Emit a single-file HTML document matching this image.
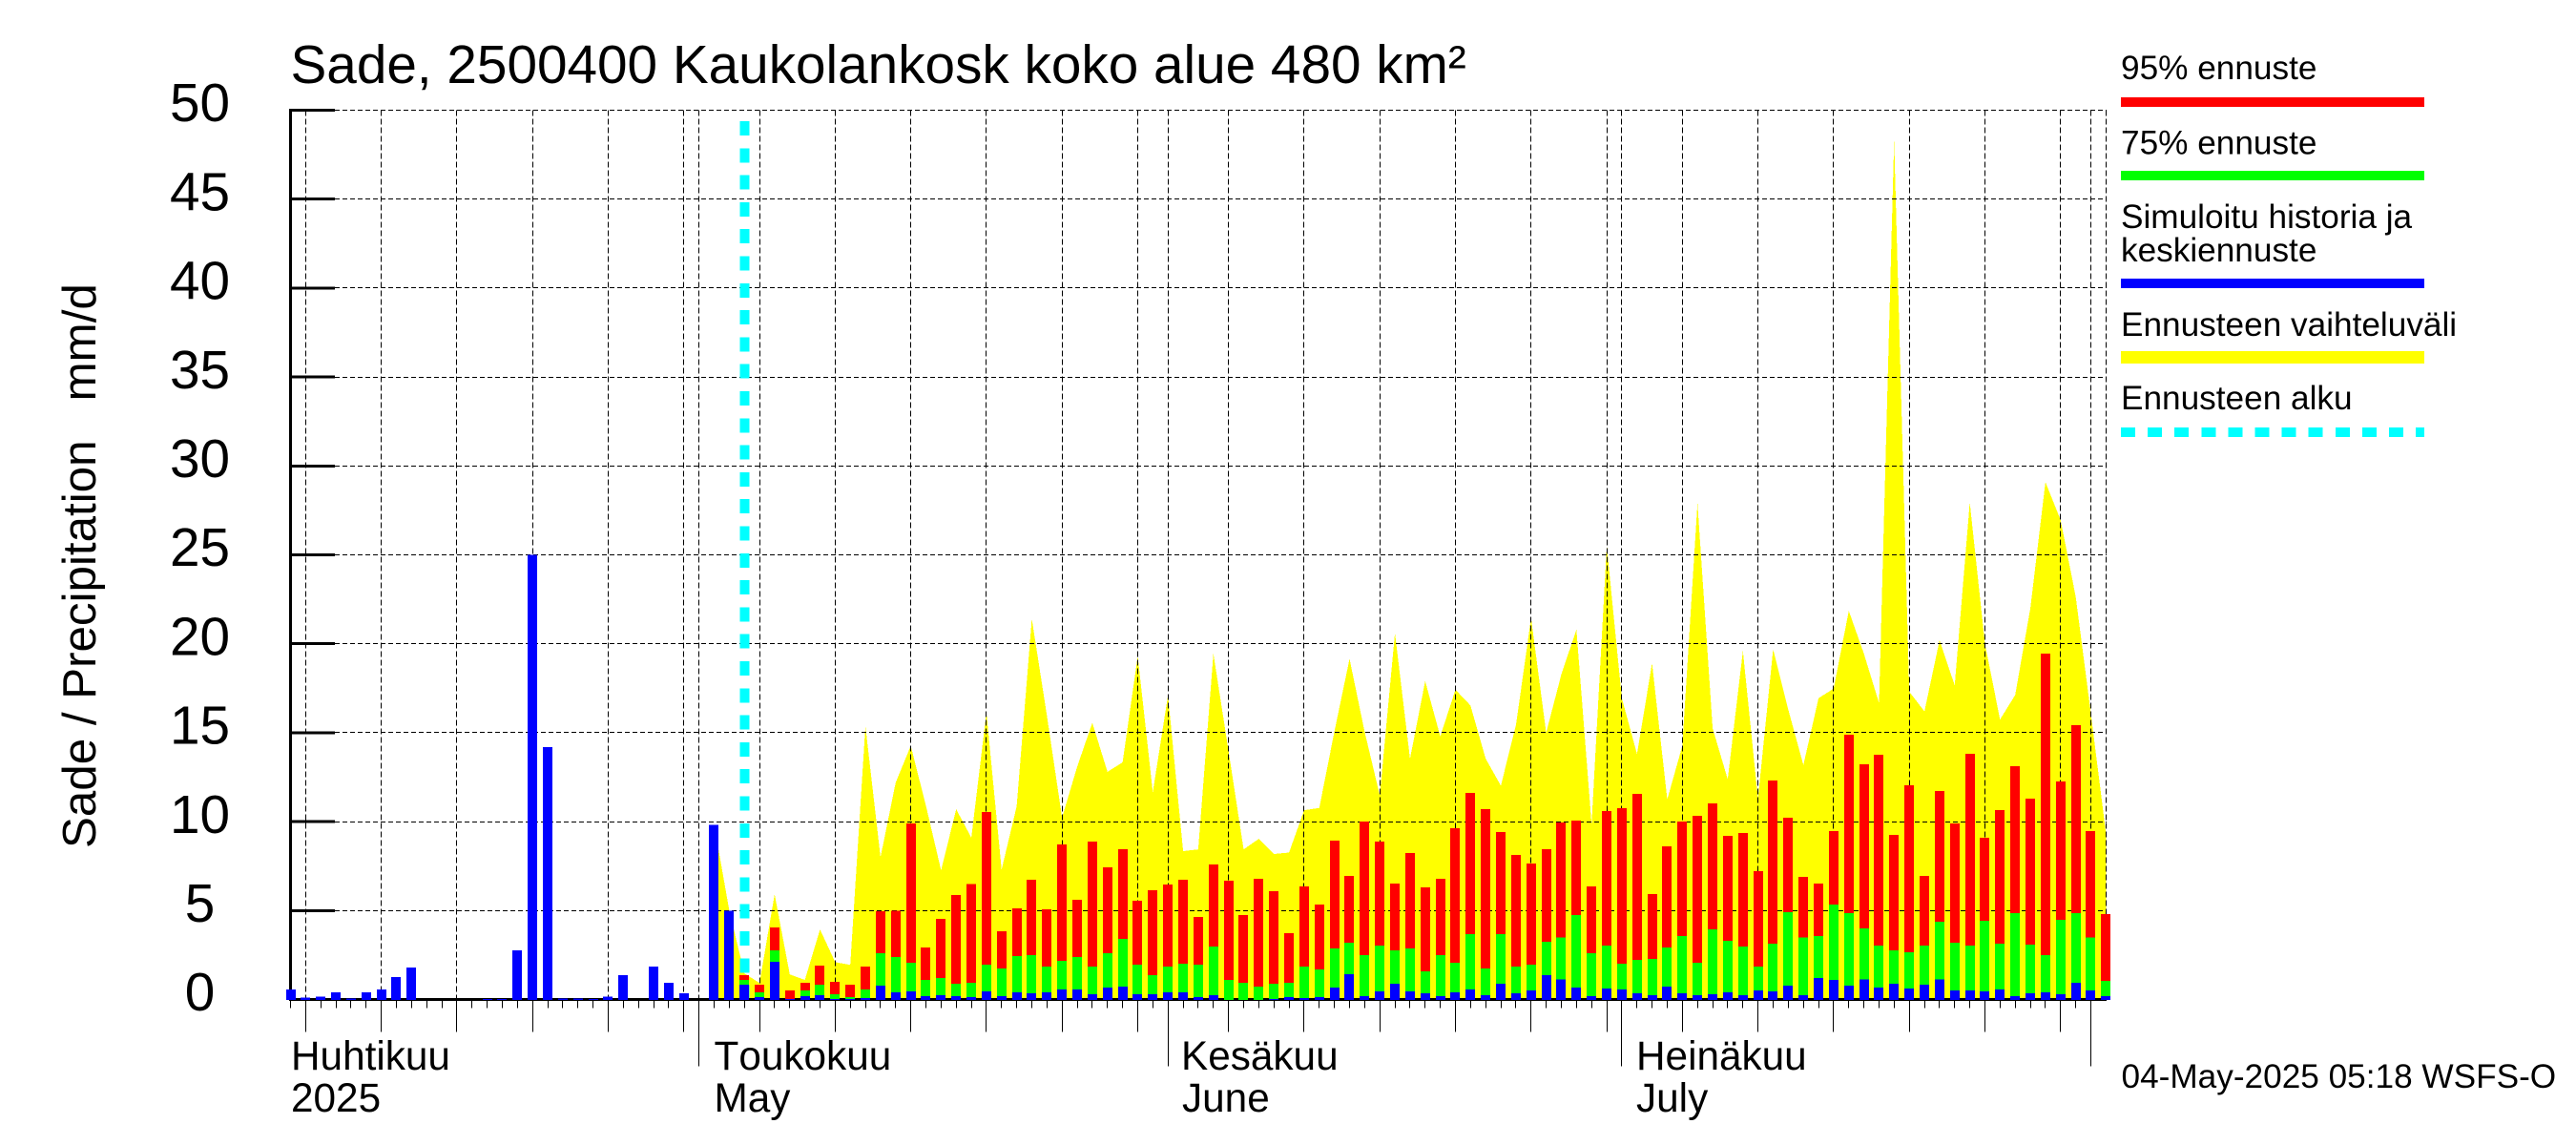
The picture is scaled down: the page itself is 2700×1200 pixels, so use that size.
<!DOCTYPE html>
<html lang="fi">
<head>
<meta charset="utf-8">
<title>Sade, 2500400 Kaukolankosk koko alue 480 km²</title>
<style>
html,body{margin:0;padding:0;background:#fff;}
svg{display:block;}
text{font-family:"Liberation Sans",sans-serif;fill:#000;font-kerning:none;}
</style>
</head>
<body>
<svg id="chart" xmlns="http://www.w3.org/2000/svg" width="2700" height="1200" viewBox="0 0 2700 1200">
  <rect x="0" y="0" width="2700" height="1200" fill="#ffffff"/>
  <polygon id="envelope" fill="#ffff00" shape-rendering="crispEdges"/>
  <g id="grid" shape-rendering="crispEdges"></g>
  <line id="forecast-start" stroke="#00ffff" stroke-width="10" stroke-dasharray="15 13.3" shape-rendering="crispEdges"/>
  <g id="axes" shape-rendering="crispEdges"></g>
  <g id="bars" shape-rendering="crispEdges"></g>
  <g id="ylabels"></g>

  <text x="304.5" y="87" font-size="56.7">Sade, 2500400 Kaukolankosk koko alue 480 km²</text>
  <text transform="translate(100,889) rotate(-90)" font-size="49.3" xml:space="preserve">Sade / Precipitation   mm/d</text>

  <g font-size="42.3">
    <text x="305" y="1121">Huhtikuu</text>
    <text x="305" y="1165">2025</text>
    <text x="748.5" y="1121">Toukokuu</text>
    <text x="748.5" y="1165">May</text>
    <text x="1238" y="1121">Kesäkuu</text>
    <text x="1239" y="1165">June</text>
    <text x="1715" y="1121">Heinäkuu</text>
    <text x="1715" y="1165">July</text>
  </g>

  <g font-size="35.2">
    <text x="2223" y="83">95% ennuste</text>
    <rect x="2223" y="102" width="318" height="10" fill="#ff0000"/>
    <text x="2223" y="161.5">75% ennuste</text>
    <rect x="2223" y="179" width="318" height="10" fill="#00ff00"/>
    <text x="2223" y="239">Simuloitu historia ja</text>
    <text x="2223" y="274">keskiennuste</text>
    <rect x="2223" y="292" width="318" height="10" fill="#0000ff"/>
    <text x="2223" y="352">Ennusteen vaihteluväli</text>
    <rect x="2223" y="368" width="318" height="13" fill="#ffff00"/>
    <text x="2223" y="429">Ennusteen alku</text>
    <line x1="2223" y1="453" x2="2541" y2="453" stroke="#00ffff" stroke-width="10" stroke-dasharray="15 13.1" shape-rendering="crispEdges"/>
  </g>

  <text x="2223.5" y="1140" font-size="35.2">04-May-2025 05:18 WSFS-O</text>
</svg>
<script>
// Y axis
const yTickLabels = [0, 5, 10, 15, 20, 25, 30, 35, 40, 45, 50];
// Calendar of the x axis
const startDate = "2025-04-04";
const endDate = "2025-08-02";
const forecastStartDate = "2025-05-04";
const envelopeStartDate = "2025-05-02";
// Observed daily precipitation, 4 Apr - 3 May
const historyValues = [0.57,0.1,0.15,0.4,0.05,0.4,0.57,1.27,1.8,0,0,0,0,0.03,0.03,2.77,25,14.2,0.05,0.05,0.03,0.15,1.38,0,1.86,0.95,0.36,0,9.83,5];
// Forecast from 4 May
const forecast95 = [1.36,0.82,4.04,0.5,0.93,1.9,0.98,0.82,1.84,4.96,5,9.9,2.92,4.53,5.87,6.5,10.54,3.83,5.12,6.73,5.06,8.71,5.6,8.87,7.42,8.44,5.55,6.14,6.46,6.73,4.63,7.58,6.67,4.74,6.78,6.08,3.72,6.35,5.33,8.93,6.94,10,8.87,6.51,8.23,6.3,6.78,9.62,11.61,10.7,9.41,8.12,7.64,8.44,9.96,10.05,6.35,10.59,10.75,11.56,5.92,8.6,10,10.32,11.02,9.19,9.36,7.21,12.31,10.21,6.89,6.51,9.46,14.88,13.22,13.76,9.25,12.04,6.94,11.72,9.89,13.81,9.09,10.64,13.11,11.29,19.45,12.25,15.42,9.46,4.79];
const forecast75 = [1.09,0.39,2.75,0.02,0.5,0.82,0.29,0.13,0.55,2.59,2.38,2.06,1.09,1.2,0.88,0.93,1.95,1.74,2.43,2.49,1.84,2.16,2.38,1.84,2.59,3.4,1.95,1.36,1.84,2,1.95,2.97,1.09,0.93,0.72,0.88,0.93,1.84,1.68,2.86,3.18,2.49,3.02,2.75,2.86,1.57,2.49,2.06,3.67,1.74,3.67,1.84,1.95,3.24,3.5,4.74,2.59,3.02,2,2.22,2.27,2.92,3.56,2.06,3.94,3.29,2.97,1.84,3.13,4.9,3.5,3.56,5.33,4.85,3.99,3.02,2.75,2.65,3.02,4.36,3.18,3.02,4.42,3.13,4.85,3.08,2.49,4.47,4.85,3.5,1.04];
const forecastMean = [0.82,0.13,2.11,0.02,0.18,0.23,0.02,0.02,0.07,0.77,0.39,0.45,0.18,0.23,0.18,0.13,0.45,0.18,0.39,0.34,0.39,0.55,0.55,0.29,0.66,0.72,0.29,0.29,0.39,0.39,0.13,0.23,0,0,0,0.02,0.13,0.07,0.13,0.66,1.41,0.18,0.45,0.88,0.45,0.34,0.18,0.39,0.55,0.23,0.88,0.34,0.5,1.36,1.14,0.66,0.18,0.61,0.55,0.34,0.23,0.72,0.34,0.23,0.29,0.39,0.23,0.5,0.45,0.77,0.23,1.2,1.09,0.77,1.14,0.66,0.88,0.61,0.82,1.14,0.5,0.5,0.45,0.55,0.18,0.34,0.39,0.29,0.93,0.5,0.18];
// Upper edge of the forecast range, from 2 May
const envelopeValues = [9.83,5,1.47,0.93,5.92,1.41,1.1,3.94,2.1,1.95,15.37,8,12.2,14.26,10.9,7.26,10.7,9.1,16.13,7.3,10.86,21.4,15.96,10.23,13.1,15.56,12.8,13.33,19.3,11.66,17.1,8.34,8.44,19.45,14,8.44,9.03,8.18,8.26,10.64,10.77,15.06,19.15,15.06,11.48,20.6,13.54,17.9,14.79,17.42,16.53,13.54,12.02,15.42,21.45,15,18.28,20.8,9.87,25.5,16.94,13.81,18.9,11.25,14.26,27.9,15.24,12.38,19.6,11.3,19.7,16.31,13.18,16.94,17.48,21.85,19.45,16.67,48.3,17.3,16.2,20.2,17.66,27.95,20,15.74,17.12,22,29.1,26.96,22.66,16.1,9.34];

const NS = "http://www.w3.org/2000/svg";
const DAY = 86400000;
const X0 = 304.5, DX = 15.857, Y0 = 1047.5, KY = 18.64, YMAX = 50;
const dayIndex = (s) => Math.round((Date.parse(s + "T00:00:00Z") - Date.parse(startDate + "T00:00:00Z")) / DAY);
const xScale = (d) => X0 + DX * d;
const yScale = (v) => Y0 - KY * v;
const snap = (v) => Math.round(v - 0.5) + 0.5;
const lastDay = dayIndex(endDate);
const forecastStart = dayIndex(forecastStartDate);
const envelopeStart = dayIndex(envelopeStartDate);

function mk(tag, parent, attrs) {
  const el = document.createElementNS(NS, tag);
  for (const k in attrs) el.setAttribute(k, attrs[k]);
  parent.appendChild(el);
  return el;
}

// Forecast range polygon
const pts = [];
pts.push(xScale(envelopeStart) + "," + Y0);
envelopeValues.forEach(function (v, i) {
  pts.push(xScale(envelopeStart + i).toFixed(1) + "," + yScale(v).toFixed(1));
});
pts.push(xScale(envelopeStart + envelopeValues.length - 1).toFixed(1) + "," + Y0);
document.getElementById("envelope").setAttribute("points", pts.join(" "));

// Grid and axes
const grid = document.getElementById("grid");
const axes = document.getElementById("axes");
const topY = yScale(YMAX);

yTickLabels.forEach(function (v) {
  if (v === 0) return;
  const gl = mk("line", grid, {x1: 351, x2: xScale(lastDay) + 0.5, y1: snap(yScale(v)), y2: snap(yScale(v)), stroke: "#000", "stroke-width": 1, "stroke-dasharray": "5 3"});
  
  
  const tk = mk("line", axes, {x1: 303, x2: 351, y1: yScale(v), y2: yScale(v), stroke: "#000", "stroke-width": 3});
  
  
});

for (let d = 0; d <= lastDay; d++) {
  const date = new Date(Date.parse(startDate + "T00:00:00Z") + d * DAY);
  const dom = date.getUTCDate();
  const isMonth = dom === 1;
  const isGrid = dom % 5 === 0 || isMonth || d === lastDay;
  const x = snap(xScale(d));
  if (isGrid) {
    const g = mk("line", grid, {x1: x, x2: x, y1: topY, y2: Y0, stroke: "#000", "stroke-width": 1, "stroke-dasharray": "6 3"});
    
    
  }
  if (d < lastDay) {
    const len = isMonth ? 70 : (dom % 5 === 0 ? 34 : 9);
    const t = mk("line", axes, {x1: x, x2: x, y1: Y0, y2: Y0 + len, stroke: "#000", "stroke-width": 1});
    
    
  }
}

const spine = mk("rect", axes, {x: 303, y: topY - 1.5, width: 3, height: Y0 - topY + 2, fill: "#000"});


const baseLine = mk("rect", axes, {x: 303, y: Y0 - 1.5, width: xScale(lastDay) - 303 + 0.5, height: 3, fill: "#000"});



// Forecast start marker
const fs = document.getElementById("forecast-start");
fs.setAttribute("x1", xScale(forecastStart) + 0.5);
fs.setAttribute("x2", xScale(forecastStart) + 0.5);
fs.setAttribute("y1", 127);
fs.setAttribute("y2", Y0);

// Bars
const bars = document.getElementById("bars");
const BW = 10;
function bar(d, v, color, name) {
  if (!(v > 0)) return;
  const r = mk("rect", bars, {x: Math.round(xScale(d) - BW / 2), width: BW, y: yScale(v), height: KY * v + 0.5, fill: color});
  
  
}
historyValues.forEach(function (v, i) {
  bar(i, v, "#0000ff", "history-bar");
});
forecast95.forEach(function (v, i) {
  const d = forecastStart + i;
  bar(d, v, "#ff0000", "forecast-95-bar");
  bar(d, forecast75[i], "#00ff00", "forecast-75-bar");
  bar(d, forecastMean[i], "#0000ff", "forecast-mean-bar");
});

// Y tick labels
const yl = document.getElementById("ylabels");
yTickLabels.forEach(function (v) {
  const t = mk("text", yl, {x: 209.5, y: yScale(v) + 11.7, "font-size": 56.7, "text-anchor": "middle"});
  t.textContent = v;
  
  
});
</script>
</body>
</html>
